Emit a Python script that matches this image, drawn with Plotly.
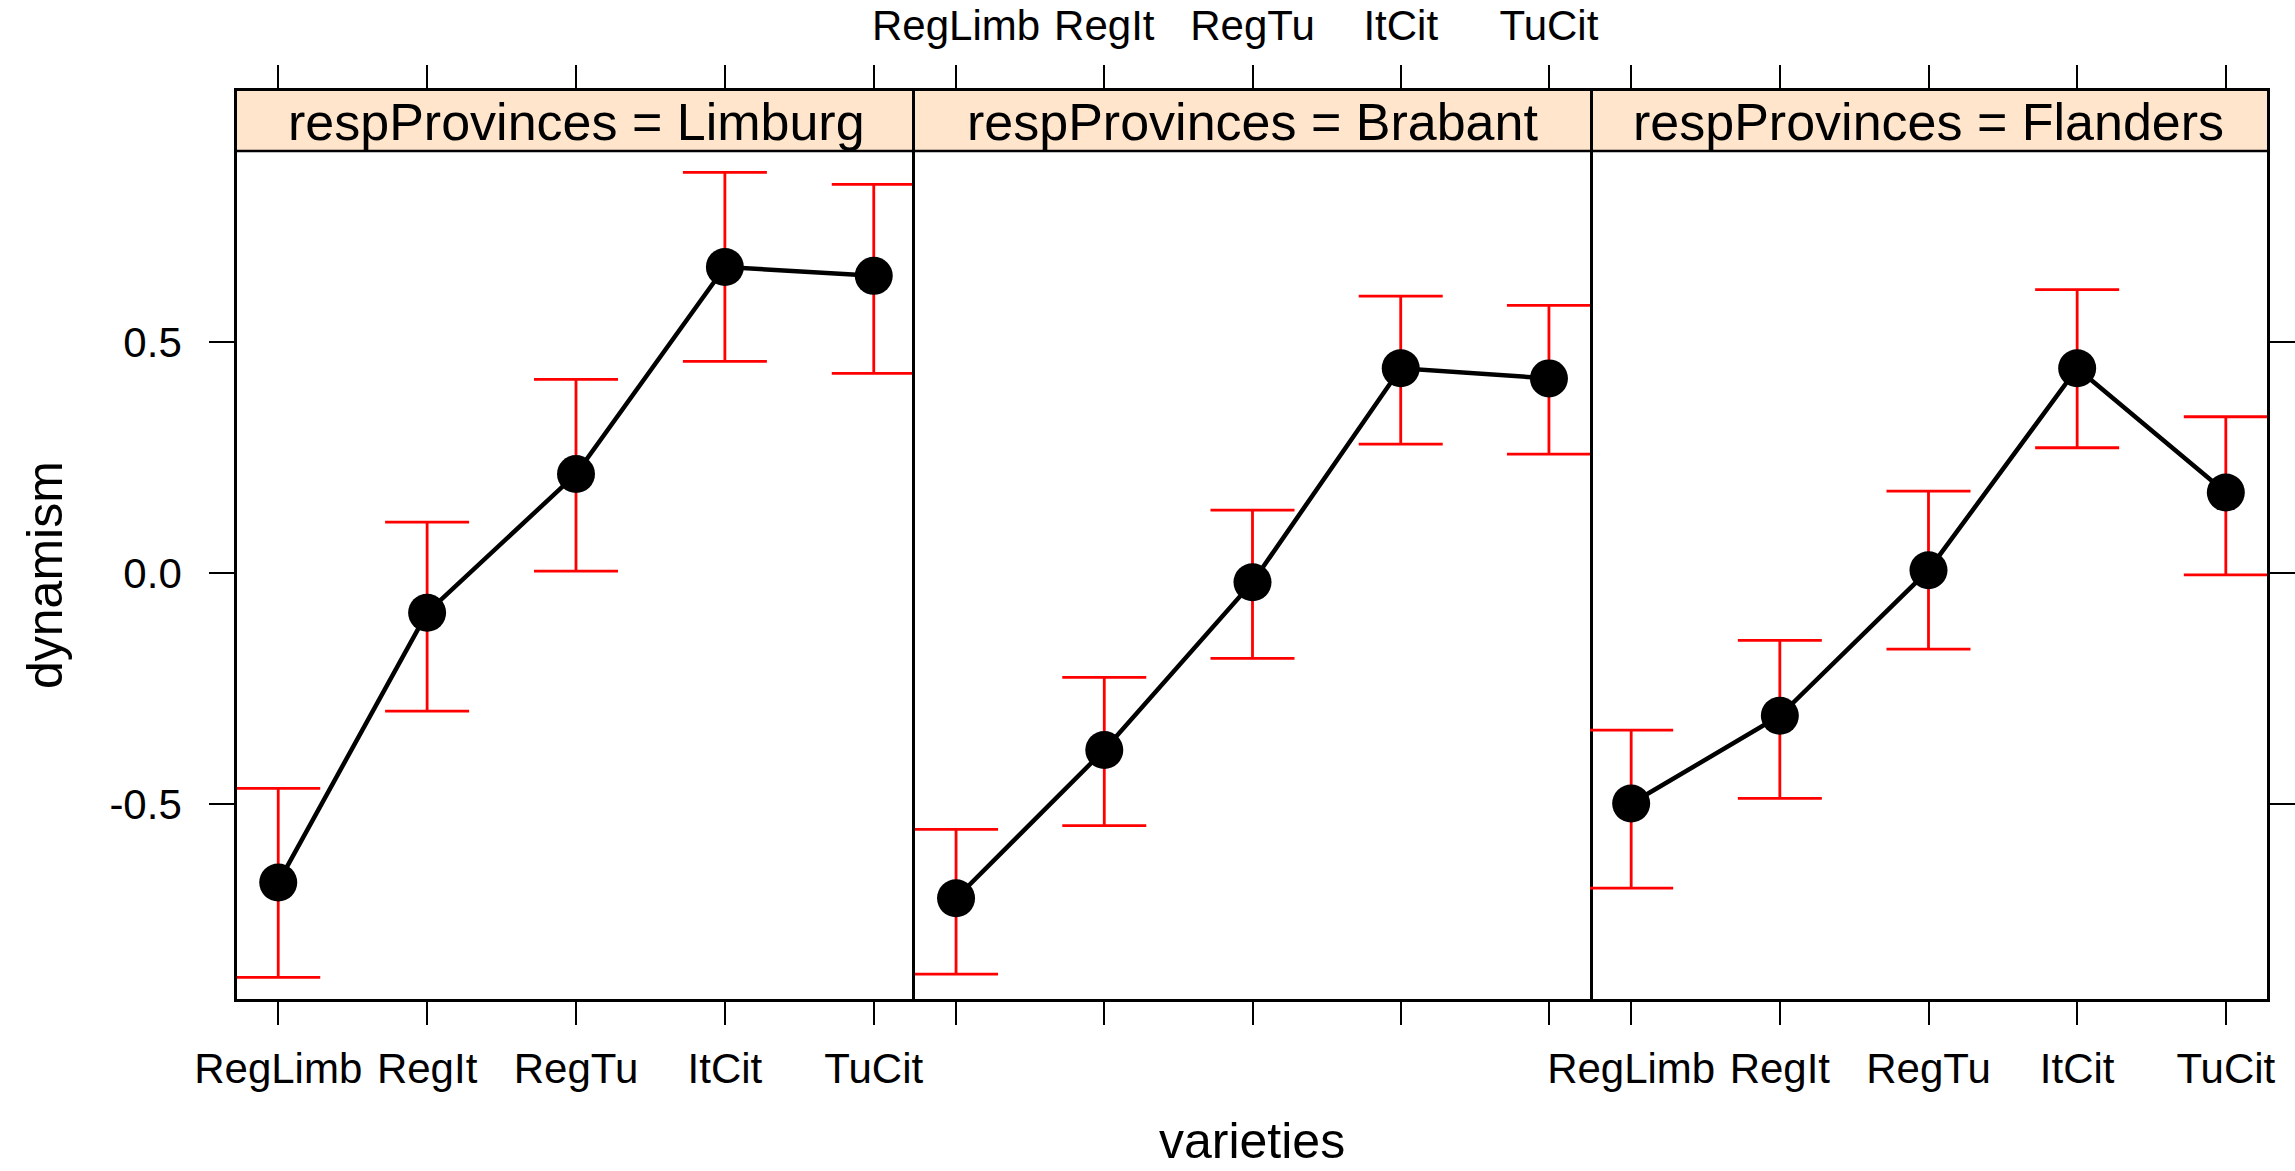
import plotly.graph_objects as go

categories = ["RegLimb", "RegIt", "RegTu", "ItCit", "TuCit"]
provinces = ["Limburg", "Brabant", "Flanders"]

limburg_mean = [-0.670, -0.086, 0.214, 0.662, 0.643]
limburg_lower = [-0.875, -0.299, 0.004, 0.458, 0.432]
limburg_upper = [-0.466, 0.110, 0.419, 0.867, 0.841]

brabant_mean = [-0.704, -0.383, -0.020, 0.443, 0.421]
brabant_lower = [-0.868, -0.547, -0.185, 0.279, 0.257]
brabant_upper = [-0.555, -0.226, 0.136, 0.599, 0.579]

flanders_mean = [-0.499, -0.309, 0.006, 0.443, 0.174]
flanders_lower = [-0.682, -0.488, -0.165, 0.271, -0.004]
flanders_upper = [-0.340, -0.146, 0.177, 0.613, 0.338]

ytick_vals = [-0.5, 0.0, 0.5]
ytick_text = ["-0.5", "0.0", "0.5"]

means = [limburg_mean, brabant_mean, flanders_mean]
lowers = [limburg_lower, brabant_lower, flanders_lower]
uppers = [limburg_upper, brabant_upper, flanders_upper]

W, H = 2295, 1171
FONT = "Liberation Sans, Arial, sans-serif"
panel_px = [(237, 915), (915, 1590), (1590, 2267)]
plot_top_px, strip_top_px, plot_bot_px = 151, 91, 999

def px_x(p):
    return p / W

def px_y(p):
    return 1 - p / H

fig = go.Figure()

for i in range(3):
    xa = "x" if i == 0 else f"x{i+1}"
    ya = "y" if i == 0 else f"y{i+1}"
    m, lo, up = means[i], lowers[i], uppers[i]
    plus = [u - v for u, v in zip(up, m)]
    minus = [v - l for v, l in zip(m, lo)]
    fig.add_trace(go.Scatter(
        x=categories, y=m, xaxis=xa, yaxis=ya, mode="markers",
        marker=dict(size=1, color="rgba(0,0,0,0)"),
        error_y=dict(type="data", array=plus, arrayminus=minus, color="#FF0000",
                     thickness=2.8, width=42),
        showlegend=False, hoverinfo="skip"))
    fig.add_trace(go.Scatter(
        x=categories, y=m, xaxis=xa, yaxis=ya, mode="lines+markers",
        line=dict(color="black", width=4.5),
        marker=dict(size=38, color="black"),
        showlegend=False))

layout = dict(width=W, height=H, margin=dict(l=0, r=0, t=0, b=0, autoexpand=False),
              paper_bgcolor="white", plot_bgcolor="white",
              font=dict(family=FONT, color="black"))

ydom = [px_y(plot_bot_px), px_y(strip_top_px)]
yrange = [-0.922, 1.043]

for i in range(3):
    sfx = "" if i == 0 else str(i + 1)
    x0, x1 = panel_px[i]
    layout["xaxis" + sfx] = dict(
        type="category", range=[-0.277, 4.277], domain=[px_x(x0), px_x(x1)],
        anchor="y" + sfx, side="top" if i == 1 else "bottom", automargin=False,
        showline=True, linecolor="black", linewidth=2.7, mirror="ticks",
        ticks="outside", ticklen=23, tickwidth=2.4, tickcolor="black",
        showgrid=False, zeroline=False,
        tickfont=dict(family=FONT, size=42, color="black"),
        ticklabelstandoff=8,
    )
    ydict = dict(
        range=yrange, domain=ydom, anchor="x" + sfx, automargin=False,
        showline=True, linecolor="black", linewidth=2.7,
        showgrid=False, zeroline=False,
        tickvals=ytick_vals, ticktext=ytick_text,
        tickfont=dict(family=FONT, size=42, color="black"),
    )
    if i == 0:
        ydict.update(side="left", mirror=False, ticks="outside", ticklen=25, tickwidth=2.4,
                     tickcolor="black", showticklabels=True, ticklabelstandoff=19)
    elif i == 1:
        ydict.update(mirror=True, ticks="", showticklabels=False)
    else:
        ydict.update(side="right", mirror=False, ticks="outside", ticklen=25, tickwidth=2.4,
                     tickcolor="black", showticklabels=False)
    layout["yaxis" + sfx] = ydict

shapes = []
annotations = []
for i in range(3):
    x0, x1 = panel_px[i]
    shapes.append(dict(type="rect", xref="paper", yref="paper",
                       x0=px_x(x0), x1=px_x(x1), y0=px_y(plot_top_px), y1=px_y(strip_top_px),
                       fillcolor="#FFE5CC", line=dict(width=0), layer="below"))
    annotations.append(dict(xref="paper", yref="paper", x=px_x((x0 + x1) / 2),
                            y=px_y((plot_top_px + strip_top_px) / 2 + 1),
                            text=f"respProvinces = {provinces[i]}", showarrow=False,
                            xanchor="center", yanchor="middle",
                            font=dict(family=FONT, size=52, color="black")))
shapes.append(dict(type="line", xref="paper", yref="paper",
                   x0=px_x(panel_px[0][0]), x1=px_x(panel_px[-1][1]),
                   y0=px_y(plot_top_px), y1=px_y(plot_top_px),
                   line=dict(color="black", width=2.7), layer="above"))

annotations.append(dict(xref="paper", yref="paper", x=px_x(45), y=px_y(575),
                        text="dynamism", textangle=-90, showarrow=False,
                        xanchor="center", yanchor="middle",
                        font=dict(family=FONT, size=50, color="black")))
annotations.append(dict(xref="paper", yref="paper", x=px_x(1252), y=0,
                        text="varieties", showarrow=False,
                        xanchor="center", yanchor="bottom",
                        font=dict(family=FONT, size=50, color="black")))

layout["shapes"] = shapes
layout["annotations"] = annotations
fig.update_layout(**layout)

fig.write_html("out.html")
